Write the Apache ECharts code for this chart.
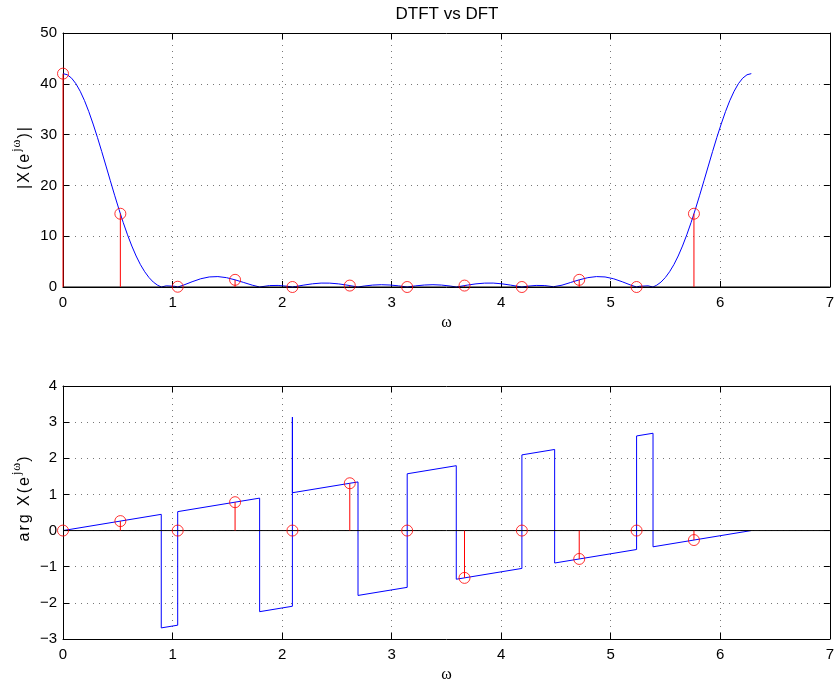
<!DOCTYPE html>
<html>
<head>
<meta charset="utf-8">
<script src="https://cdn.jsdelivr.net/npm/echarts@6/dist/echarts.min.js"></script>
<style>
html,body{margin:0;padding:0;background:#fff;}
#chart{width:837px;height:686px;}
</style>
</head>
<body>
<div id="chart"></div>
<script>
// ---- DTFT magnitude curve (omega, |X|) ----
var dtftOmega = [0,0.0393,0.0785,0.1178,0.1571,0.1963,0.2356,0.2749,0.3142,0.3534,0.3927,0.4320,0.4712,0.5105,0.5498,0.5890,0.6283,0.6676,0.7069,0.7461,0.7854,0.8247,0.8639,0.8976,0.9425,1.0210,1.0472,1.0996,1.1781,1.2566,1.3352,1.4137,1.4923,1.5708,1.6493,1.7279,1.7952,1.8064,1.8850,1.9635,2.0420,2.0944,2.1206,2.1991,2.2777,2.3562,2.4347,2.5133,2.5918,2.6704,2.6928,2.7489,2.8274,2.9060,2.9845,3.0631,3.1416,
 3.2201,3.2987,3.3772,3.4558,3.5343,3.5904,3.6128,3.6914,3.7699,3.8485,3.9270,4.0055,4.0841,4.1626,4.1888,4.2412,4.3197,4.3982,4.4768,4.4880,4.5553,4.6339,4.7124,4.7909,4.8695,4.9480,5.0265,5.1051,5.1836,5.2360,5.2622,5.3407,5.3856,5.4193,5.4585,5.4978,5.5371,5.5763,5.6156,5.6549,5.6941,5.7334,5.7727,5.8119,5.8512,5.8905,5.9298,5.9690,6.0083,6.0476,6.0868,6.1261,6.1654,6.2046,6.2439,6.2832];
var dtftMag = [42,41.78,41.11,40.02,38.53,36.69,34.52,32.08,29.46,26.68,23.81,20.92,18.07,15.31,12.69,10.27,8.06,6.10,4.40,3.00,1.85,0.96,0.35,0,0.23,0.14,0,0.37,1.03,1.62,1.98,2.05,1.84,1.41,0.89,0.36,0,0.05,0.28,0.31,0.16,0,0.09,0.38,0.63,0.77,0.76,0.62,0.37,0.08,0,0.19,0.38,0.45,0.39,0.23,0,
 0.23,0.39,0.45,0.38,0.19,0,0.08,0.37,0.62,0.76,0.77,0.63,0.38,0.09,0,0.16,0.31,0.28,0.05,0,0.36,0.89,1.41,1.84,2.05,1.98,1.62,1.03,0.37,0,0.14,0.23,0,0.35,0.96,1.85,3.00,4.40,6.10,8.06,10.27,12.69,15.31,18.07,20.92,23.81,26.68,29.46,32.08,34.52,36.69,38.53,40.02,41.11,41.78,42];

// ---- DTFT phase curve vertices (omega, arg X) ----
var phaseOmega = [0,0.897,0.897,1.047,1.047,1.795,1.795,2.094,2.094,2.094,2.693,2.693,3.142,3.142,3.590,3.590,4.189,4.189,4.488,4.488,5.236,5.236,5.386,5.386,6.283];
var phaseVal   = [0,0.449,-2.693,-2.618,0.524,0.898,-2.244,-2.094,3.14,1.047,1.346,-1.795,-1.571,1.571,1.795,-1.346,-1.047,2.094,2.244,-0.898,-0.524,2.618,2.693,-0.449,0];

// ---- DFT samples ----
var dftOmega = [0,0.5236,1.0472,1.5708,2.0944,2.6180,3.1416,3.6652,4.1888,4.7124,5.2360,5.7596];
var dftMag   = [42,14.42,0.05,1.41,0,0.28,0,0.28,0,1.41,0,14.42];
var dftPhase = [0,0.262,0,0.785,0,1.309,0,-1.309,0,-0.785,0,-0.262];

// ---- axis ticks ----
var xTicks = {min:0, max:7, interval:1};
var yMagTicks = {min:0, max:50, interval:10};
var yPhaseTicks = {min:-3, max:4, interval:1};

function pairs(a, b){ return a.map(function(v,i){ return [v, b[i]]; }); }

var FONT = "'Liberation Sans', Arial, Helvetica, sans-serif";
var SERIF = "'Liberation Serif', 'DejaVu Serif', serif";
var gridLine = {show:true, lineStyle:{color:'#777', width:1, type:[1,5]}};
var axLine = {show:true, onZero:false, lineStyle:{color:'#000', width:1}};
var tickIn = {show:true, inside:true, length:6, lineStyle:{color:'#000', width:1}};
function minus(v){ return String(v).replace('-', '\u2212'); }

function xAx(g, bottom){
  return {
    gridIndex:g, type:'value', min:xTicks.min, max:xTicks.max, interval:xTicks.interval,
    position: bottom ? 'bottom' : 'top',
    axisLine:axLine, axisTick:tickIn,
    axisLabel: bottom ? {show:true, color:'#000', fontSize:15, fontFamily:FONT, margin:8} : {show:false},
    splitLine: bottom ? gridLine : {show:false},
    name: bottom ? '\u03c9' : '', nameLocation:'middle', nameGap:28,
    nameTextStyle:{color:'#000', fontSize:16, fontFamily:SERIF}
  };
}
function yAx(g, left, t){
  return {
    gridIndex:g, type:'value', min:t.min, max:t.max, interval:t.interval,
    position: left ? 'left' : 'right',
    axisLine:axLine, axisTick:tickIn,
    axisLabel: left ? {show:true, color:'#000', fontSize:15, fontFamily:FONT, margin:6, formatter:minus} : {show:false},
    splitLine: left ? gridLine : {show:false}
  };
}
function stemRender(params, api){
  var x = api.value(0), y = api.value(1);
  var p0 = api.coord([x, 0]), p1 = api.coord([x, y]);
  return {type:'line', shape:{x1:p0[0], y1:p0[1], x2:p1[0], y2:p1[1]}, style:{stroke:'#ff0000', lineWidth:1}};
}
var labelRich = {
  a:{fontSize:16, fontFamily:FONT, fill:'#000', lineHeight:28, padding:[0,2,0,0]},
  b:{fontSize:12, fontFamily:SERIF, fill:'#000', verticalAlign:'top', padding:[0,1,0,0]}
};
function yLabel(text, cx, cy){
  return {type:'text', x:cx, y:cy, rotation:Math.PI/2,
    style:{text:text, rich:labelRich, fill:'#000', textAlign:'center', textVerticalAlign:'middle', font:'16px ' + FONT}};
}

var option = {
  animation:false,
  backgroundColor:'#fff',
  graphic:[
    {type:'text', x:447, y:14.5, style:{text:'DTFT vs DFT', fill:'#000', font:'17px ' + FONT, textAlign:'center', textVerticalAlign:'middle'}},
    yLabel('{a||}{a|X}{a|(}{a|e}{b|j}{b|\u03c9}{a|)}{a||}', 25, 157),
    yLabel('{a|a}{a|r}{a|g}{a| }{a|X}{a|(}{a|e}{b|j}{b|\u03c9}{a|)}', 25, 498)
  ],
  grid:[
    {left:63, top:33, width:768, height:254, show:false},
    {left:63, top:386, width:768, height:253, show:false}
  ],
  xAxis:[xAx(0,true), xAx(0,false), xAx(1,true), xAx(1,false)],
  yAxis:[yAx(0,true,yMagTicks), yAx(0,false,yMagTicks), yAx(1,true,yPhaseTicks), yAx(1,false,yPhaseTicks)],
  series:[
    {type:'line', xAxisIndex:0, yAxisIndex:0, data:pairs(dtftOmega, dtftMag), showSymbol:false, symbol:'none',
     lineStyle:{color:'#0000ff', width:1}, z:2},
    {type:'line', xAxisIndex:0, yAxisIndex:0, data:[[xTicks.min,0],[xTicks.max,0]], symbol:'none',
     lineStyle:{color:'#000', width:1}, z:3},
    {type:'custom', xAxisIndex:0, yAxisIndex:0, data:pairs(dftOmega, dftMag), renderItem:stemRender, encode:{x:0,y:1}, z:4},
    {type:'scatter', xAxisIndex:0, yAxisIndex:0, data:pairs(dftOmega, dftMag), symbol:'circle', symbolSize:11,
     itemStyle:{color:'rgba(0,0,0,0)', borderColor:'#ff0000', borderWidth:1}, z:5},

    {type:'line', xAxisIndex:2, yAxisIndex:2, data:pairs(phaseOmega, phaseVal), showSymbol:false, symbol:'none',
     lineStyle:{color:'#0000ff', width:1}, z:2},
    {type:'line', xAxisIndex:2, yAxisIndex:2, data:[[xTicks.min,0],[xTicks.max,0]], symbol:'none',
     lineStyle:{color:'#000', width:1}, z:3},
    {type:'custom', xAxisIndex:2, yAxisIndex:2, data:pairs(dftOmega, dftPhase), renderItem:stemRender, encode:{x:0,y:1}, z:4},
    {type:'scatter', xAxisIndex:2, yAxisIndex:2, data:pairs(dftOmega, dftPhase), symbol:'circle', symbolSize:11,
     itemStyle:{color:'rgba(0,0,0,0)', borderColor:'#ff0000', borderWidth:1}, z:5}
  ]
};
var chart = echarts.init(document.getElementById('chart'), null, {renderer:'canvas'});
chart.setOption(option);
</script>
</body>
</html>
